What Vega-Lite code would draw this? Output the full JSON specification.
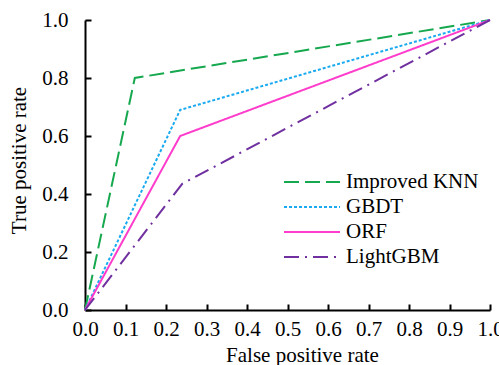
{
  "$schema": "https://vega.github.io/schema/vega-lite/v6.json",
  "width": 405,
  "height": 290,
  "autosize": {"type": "none"},
  "padding": {"left": 85, "top": 20, "right": 9, "bottom": 55},
  "background": "white",
  "config": {
    "view": {"stroke": null},
    "font": "Liberation Serif",
    "axis": {
      "grid": false,
      "domainColor": "black",
      "domainWidth": 2,
      "tickColor": "black",
      "tickWidth": 2,
      "tickSize": -6,
      "labelFlush": false,
      "labelOverlap": false,
      "labelFont": "Liberation Serif",
      "labelFontSize": 21,
      "labelColor": "black",
      "titleFont": "Liberation Serif",
      "titleFontSize": 21,
      "titleFontWeight": "normal",
      "titleColor": "black"
    },
    "legend": {
      "labelFont": "Liberation Serif",
      "labelFontSize": 21,
      "labelColor": "black"
    }
  },
  "data": {
    "values": [
      {"model": "Improved KNN", "fpr": 0.0, "tpr": 0.0},
      {"model": "Improved KNN", "fpr": 0.123, "tpr": 0.80},
      {"model": "Improved KNN", "fpr": 1.0, "tpr": 1.0},
      {"model": "GBDT", "fpr": 0.0, "tpr": 0.0},
      {"model": "GBDT", "fpr": 0.235, "tpr": 0.69},
      {"model": "GBDT", "fpr": 1.0, "tpr": 1.0},
      {"model": "ORF", "fpr": 0.0, "tpr": 0.0},
      {"model": "ORF", "fpr": 0.235, "tpr": 0.60},
      {"model": "ORF", "fpr": 1.0, "tpr": 1.0},
      {"model": "LightGBM", "fpr": 0.0, "tpr": 0.0},
      {"model": "LightGBM", "fpr": 0.24, "tpr": 0.435},
      {"model": "LightGBM", "fpr": 1.0, "tpr": 1.0}
    ]
  },
  "mark": {"type": "line", "strokeWidth": 2, "clip": false},
  "encoding": {
    "x": {
      "field": "fpr",
      "type": "quantitative",
      "scale": {"domain": [0, 1], "nice": false},
      "axis": {
        "values": [0, 0.1, 0.2, 0.3, 0.4, 0.5, 0.6, 0.7, 0.8, 0.9, 1.0],
        "format": ".1f",
        "labelFont": "Liberation Serif",
        "labelFontSize": 21,
        "labelPadding": 14,
        "title": "False positive rate",
        "titleFont": "Liberation Serif",
        "titleX": 217,
        "titleY": 34
      }
    },
    "y": {
      "field": "tpr",
      "type": "quantitative",
      "scale": {"domain": [0, 1], "nice": false},
      "axis": {
        "values": [0, 0.2, 0.4, 0.6, 0.8, 1.0],
        "format": ".1f",
        "labelFont": "Liberation Serif",
        "labelFontSize": 21,
        "labelPadding": 23,
        "title": "True positive rate",
        "titleFont": "Liberation Serif",
        "titleX": -56,
        "titleY": 140
      }
    },
    "order": {"field": "fpr"},
    "color": {
      "field": "model",
      "type": "nominal",
      "scale": {
        "domain": ["Improved KNN", "GBDT", "ORF", "LightGBM"],
        "range": ["#16a84f", "#19aaf0", "#ff3ccc", "#7030a0"]
      },
      "legend": {
        "title": null,
        "orient": "none",
        "legendX": 212,
        "legendY": 147,
        "padding": 0,
        "symbolType": "M-2,0L2,0",
        "symbolSize": 784,
        "symbolStrokeWidth": 2,
        "rowPadding": 0,
        "labelOffset": 19
      }
    },
    "strokeDash": {
      "field": "model",
      "type": "nominal",
      "scale": {
        "domain": ["Improved KNN", "GBDT", "ORF", "LightGBM"],
        "range": [[15, 6], [3, 2], [1, 0], [15, 6, 2, 6]]
      },
      "legend": {
        "title": null,
        "orient": "none",
        "legendX": 212,
        "legendY": 147,
        "padding": 0,
        "symbolType": "M-2,0L2,0",
        "symbolSize": 784,
        "symbolStrokeWidth": 2,
        "rowPadding": 0,
        "labelOffset": 19
      }
    }
  }
}
